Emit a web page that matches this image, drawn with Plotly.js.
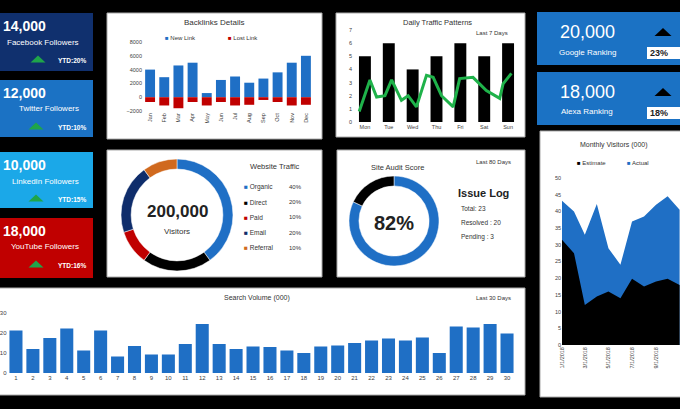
<!DOCTYPE html>
<html><head><meta charset="utf-8">
<script src="https://cdn.plot.ly/plotly-3.0.1.min.js"></script>
<style>html,body{margin:0;padding:0;background:#000;}#chart{width:680px;height:409px;}</style>
</head><body><div id="chart"></div>
<script>
// ---------- data ----------
const months = ['Jan','Feb','Mar','Apr','May','Jun','Jul','Aug','Sep','Oct','Nov','Dec'];
const backlinkSeries = ['New Link','Lost Link'];
const newLinks  = [4000,2900,4600,5000,600,2500,3000,2100,2700,3600,5000,6000];
const lostLinks = [-700,-1200,-1600,-700,-1200,-700,-1200,-1100,-400,-700,-1200,-1100];

const days = ['Mon','Tue','Wed','Thu','Fri','Sat','Sun'];
const dailyVisits = [5,6,4,5,6,5,6];
const trendPos  = [-0.24,0.21,0.49,0.84,1.12,1.53,1.81,2.16,2.58,2.86,3.21,3.70,3.97,4.53,5.09,5.65,5.79,6.14];
const trendVals = [0.8,3.2,1.9,2.0,3.2,1.65,2.0,1.15,3.55,3.4,2.0,1.15,3.3,3.4,2.4,1.8,2.9,3.7];

const sources = ['Organic','Direct','Paid','Email','Referral'];
const sourceShare = [40,20,10,20,10];
const totalVisitors = '200,000';

const auditParts = ['Score','Remaining'];
const auditValues = [82,18];
const issueLabels = ['Total','Resolved ','Pending '];
const issueCounts = [23,20,3];

const searchDays = [1,2,3,4,5,6,7,8,9,10,11,12,13,14,15,16,17,18,19,20,21,22,23,24,25,26,27,28,29,30];
const searchVol  = [21.2,12,17.5,22.2,11.3,21.3,8.3,13.5,9.2,9.2,14.5,24.5,14.5,12,13.2,13,11.3,10,13.3,13.8,15,16.3,17.2,16.3,17.8,10,23.3,22.8,24.5,19.8];

const visitorSeries = ['Estimate','Actual'];
const visitMonths = ['2018-01-01','2018-02-01','2018-03-01','2018-04-01','2018-05-01','2018-06-01','2018-07-01','2018-08-01','2018-09-01','2018-10-01','2018-11-01'];
const actualVisitors   = [43.2,40,33,42.2,29,24,37,38.5,42,44.5,40.5];
const estimateVisitors = [31.5,27.5,12,14.5,16,14,19.8,17.5,19,19.8,18];

const socialLabels = ['Facebook Followers','Twitter Followers','LinkedIn Followers','YouTube Followers'];
const socialValues = ['14,000','12,000','10,000','18,000'];
const socialYTD    = ['20%','10%','15%','16%'];

const rankLabels = ['Google Ranking','Alexa Ranking'];
const rankValues = ['20,000','18,000'];
const rankChange = ['23%','18%'];

// ---------- helpers ----------
const W = 680, H = 409;
const X = p => p / W, Y = p => 1 - p / H;
const F = 'Liberation Sans, Arial, sans-serif';
const BLUE = '#1f6fc5', RED = '#c00000', NAVY = '#0f2d6b', GREEN = '#1fa54a';
const TXT = '#404040';

function ann(text, x, y, size, o = {}) {
  return {text, x: X(x), y: Y(y), xref: 'paper', yref: 'paper', showarrow: false,
    xanchor: o.xa || 'center', yanchor: 'middle',
    font: {family: F, size, color: o.color || '#333'}};
}
function rect(x0, y0, x1, y1, fill, line) {
  return {type: 'rect', xref: 'paper', yref: 'paper', x0: X(x0), x1: X(x1), y0: Y(y1), y1: Y(y0),
    fillcolor: fill, line: {color: line || fill, width: line ? 1 : 0}, layer: 'below'};
}
function tri(cx, cy, w, h, color) {
  return {type: 'path', xref: 'paper', yref: 'paper', layer: 'above',
    path: `M ${X(cx - w/2)} ${Y(cy + h/2)} L ${X(cx + w/2)} ${Y(cy + h/2)} L ${X(cx)} ${Y(cy - h/2)} Z`,
    fillcolor: color, line: {width: 0}};
}

// ---------- traces ----------
const traces = [
  {type: 'bar', name: backlinkSeries[0], x: months, y: newLinks, width: 0.7, marker: {color: BLUE}, xaxis: 'x', yaxis: 'y'},
  {type: 'bar', name: backlinkSeries[1], x: months, y: lostLinks, width: 0.7, marker: {color: RED}, xaxis: 'x', yaxis: 'y'},
  {type: 'bar', x: days.map((d, i) => i), y: dailyVisits, width: 0.5, marker: {color: '#000'}, xaxis: 'x2', yaxis: 'y2'},
  {type: 'scatter', mode: 'lines', x: trendPos, y: trendVals, line: {color: '#1fb24a', width: 3}, xaxis: 'x2', yaxis: 'y2'},
  {type: 'bar', x: searchDays, y: searchVol, width: 0.77, marker: {color: BLUE}, xaxis: 'x3', yaxis: 'y3'},
  {type: 'scatter', mode: 'lines', name: visitorSeries[1], x: visitMonths, y: actualVisitors, fill: 'tozeroy', fillcolor: BLUE, line: {width: 0, color: BLUE}, xaxis: 'x4', yaxis: 'y4'},
  {type: 'scatter', mode: 'lines', name: visitorSeries[0], x: visitMonths, y: estimateVisitors, fill: 'tozeroy', fillcolor: '#000', line: {width: 0, color: '#000'}, xaxis: 'x4', yaxis: 'y4'},
  {type: 'pie', labels: sources, values: sourceShare, hole: 0.82, sort: false, direction: 'clockwise',
    textinfo: 'none', marker: {colors: [BLUE, '#000', RED, NAVY, '#d0691e'], line: {color: '#fff', width: 0.5}},
    domain: {x: [X(121), X(233)], y: [Y(271), Y(159)]}},
  {type: 'pie', labels: auditParts, values: auditValues, hole: 0.78, sort: false, direction: 'clockwise',
    textinfo: 'none', marker: {colors: [BLUE, '#000'], line: {color: '#fff', width: 0.5}},
    domain: {x: [X(349), X(439)], y: [Y(266), Y(176)]}}
];
traces.forEach(t => { t.showlegend = false; t.hoverinfo = 'none'; });

// ---------- shapes ----------
const shapes = [
  rect(107, 13, 322, 139, '#fff', '#aaa'),
  rect(336, 13, 525, 137, '#fff', '#aaa'),
  rect(107, 150, 322, 277, '#fff', '#aaa'),
  rect(337, 150, 525, 277, '#fff', '#aaa'),
  rect(540, 131, 690, 397, '#fff', '#aaa'),
  rect(-5, 288, 525, 395, '#fff', '#aaa'),
  rect(-5, 13, 93, 71, '#10306e'),
  rect(-5, 80, 93, 137, '#1b72c4'),
  rect(-5, 152, 93, 208, '#1ba8e8'),
  rect(-5, 218, 93, 278, '#c00000'),
  rect(537, 12, 690, 65, '#1b72c4'),
  rect(537, 72, 690, 125, '#1b72c4')
];
const annotations = [];

// social KPI boxes
const socialY = [13, 80, 152, 218];
socialLabels.forEach((lab, i) => {
  const top = socialY[i];
  annotations.push(ann('<b>' + socialValues[i] + '</b>', 1, top + 13, 14, {xa: 'left', color: '#fff'}));
  annotations.push(ann(lab, 81, top + 29, 8, {xa: 'right', color: '#fff'}));
  annotations.push(ann('<b>YTD:' + socialYTD[i] + '</b>', 88, top + 47, 6.5, {xa: 'right', color: '#fff'}));
  shapes.push(tri(i === 0 ? 38 : 36, top + 46, 15, 7, GREEN));
});

// ranking boxes
const rankY = [12, 72];
rankLabels.forEach((lab, i) => {
  const top = rankY[i];
  annotations.push(ann(rankValues[i], 587, top + 20, 18, {color: '#fff'}));
  annotations.push(ann(lab, 587, top + 40, 8, {color: '#fff'}));
  shapes.push(tri(663, top + 20, 17, 8, '#000'));
  const b = rect(647, top + 35, 690, top + 47, '#fff');
  b.layer = 'above';
  shapes.push(b);
  annotations.push(ann('<b>' + rankChange[i] + '</b>', 648, top + 41, 9, {xa: 'left', color: '#222'}));
});

// backlinks
annotations.push(ann('Backlinks Details', 214, 22, 8));
annotations.push(ann('<span style="color:' + BLUE + '">■</span> ' + backlinkSeries[0], 163, 38, 6, {xa: 'left'}));
annotations.push(ann('<span style="color:' + RED + '">■</span> ' + backlinkSeries[1], 226, 38, 6, {xa: 'left'}));

// daily
annotations.push(ann('Daily Traffic Patterns', 437, 22, 7.5));
annotations.push(ann('Last 7 Days', 492, 33, 6));

// website traffic
const srcColors = [BLUE, '#000', RED, NAVY, '#d0691e'];
annotations.push(ann('<b>' + totalVisitors + '</b>', 177, 212, 17, {color: '#222'}));
annotations.push(ann('Visitors', 177, 231, 8));
annotations.push(ann('Website Traffic', 275, 166, 7.5));
sources.forEach((s, i) => {
  const yy = 187 + i * 15.2;
  annotations.push(ann('<span style="color:' + srcColors[i] + '">■</span> ' + s, 242, yy, 6.5, {xa: 'left'}));
  annotations.push(ann(sourceShare[i] + '%', 304, yy, 6, {xa: 'right'}));
});

// site audit
annotations.push(ann('Site Audit Score', 397, 167, 7.5));
annotations.push(ann('Last 80 Days', 493, 162, 6));
annotations.push(ann('<b>' + auditValues[0] + '%</b>', 394, 223, 20, {color: '#222'}));
annotations.push(ann('<b>Issue Log</b>', 483, 193, 11, {color: '#222'}));
issueLabels.forEach((l, i) => {
  annotations.push(ann(l + ': ' + issueCounts[i], 459, 208 + i * 14.5, 6.5, {xa: 'left'}));
});

// monthly visitors
annotations.push(ann('Monthly Visitors (000)', 614, 145, 7));
annotations.push(ann('<span style="color:#000">■</span> ' + visitorSeries[0], 575, 163, 6, {xa: 'left'}));
annotations.push(ann('<span style="color:' + BLUE + '">■</span> ' + visitorSeries[1], 625, 163, 6, {xa: 'left'}));

// search volume
annotations.push(ann('Search Volume (000)', 257, 298, 7));
annotations.push(ann('Last 30 Days', 493, 298, 6));

// ---------- axes ----------
const ax = o => Object.assign({showgrid: false, zeroline: false, showline: false, ticks: '',
  tickfont: {family: F, size: 5.5, color: TXT}, fixedrange: true}, o);

const layout = {
  width: W, height: H, margin: {l: 0, r: 0, t: 0, b: 0},
  paper_bgcolor: '#000', plot_bgcolor: 'rgba(0,0,0,0)',
  showlegend: false, barmode: 'relative',
  font: {family: F},
  xaxis:  ax({domain: [X(143), X(313)], anchor: 'y', type: 'category', tickangle: -90}),
  yaxis:  ax({domain: [Y(111), Y(42)], anchor: 'x', range: [-2000, 8000], dtick: 2000}),
  xaxis2: ax({domain: [X(353), X(520)], anchor: 'y2', range: [-0.5, 6.5], tickvals: days.map((d, i) => i), ticktext: days}),
  yaxis2: ax({domain: [Y(122), Y(30)], anchor: 'x2', range: [0, 7], dtick: 1}),
  xaxis3: ax({domain: [X(7.5), X(515.5)], anchor: 'y3', range: [0.5, 30.5], tickvals: searchDays, tickfont: {family: F, size: 6, color: TXT}}),
  yaxis3: ax({domain: [Y(373), Y(303)], anchor: 'x3', range: [0, 35], tickvals: [0, 10, 20, 30], tickfont: {family: F, size: 6, color: TXT}}),
  xaxis4: ax({domain: [X(562), 1], anchor: 'y4', type: 'date', range: ['2018-01-01', '2018-11-02'],
    dtick: 'M2', tick0: '2018-01-01', tickformat: '%-m/%-d/%Y', tickangle: -90}),
  yaxis4: ax({domain: [Y(345), Y(178)], anchor: 'x4', range: [0, 50], dtick: 5}),
  shapes, annotations
};

Plotly.newPlot('chart', traces, layout, {staticPlot: true, displayModeBar: false});
</script>
</body></html>
